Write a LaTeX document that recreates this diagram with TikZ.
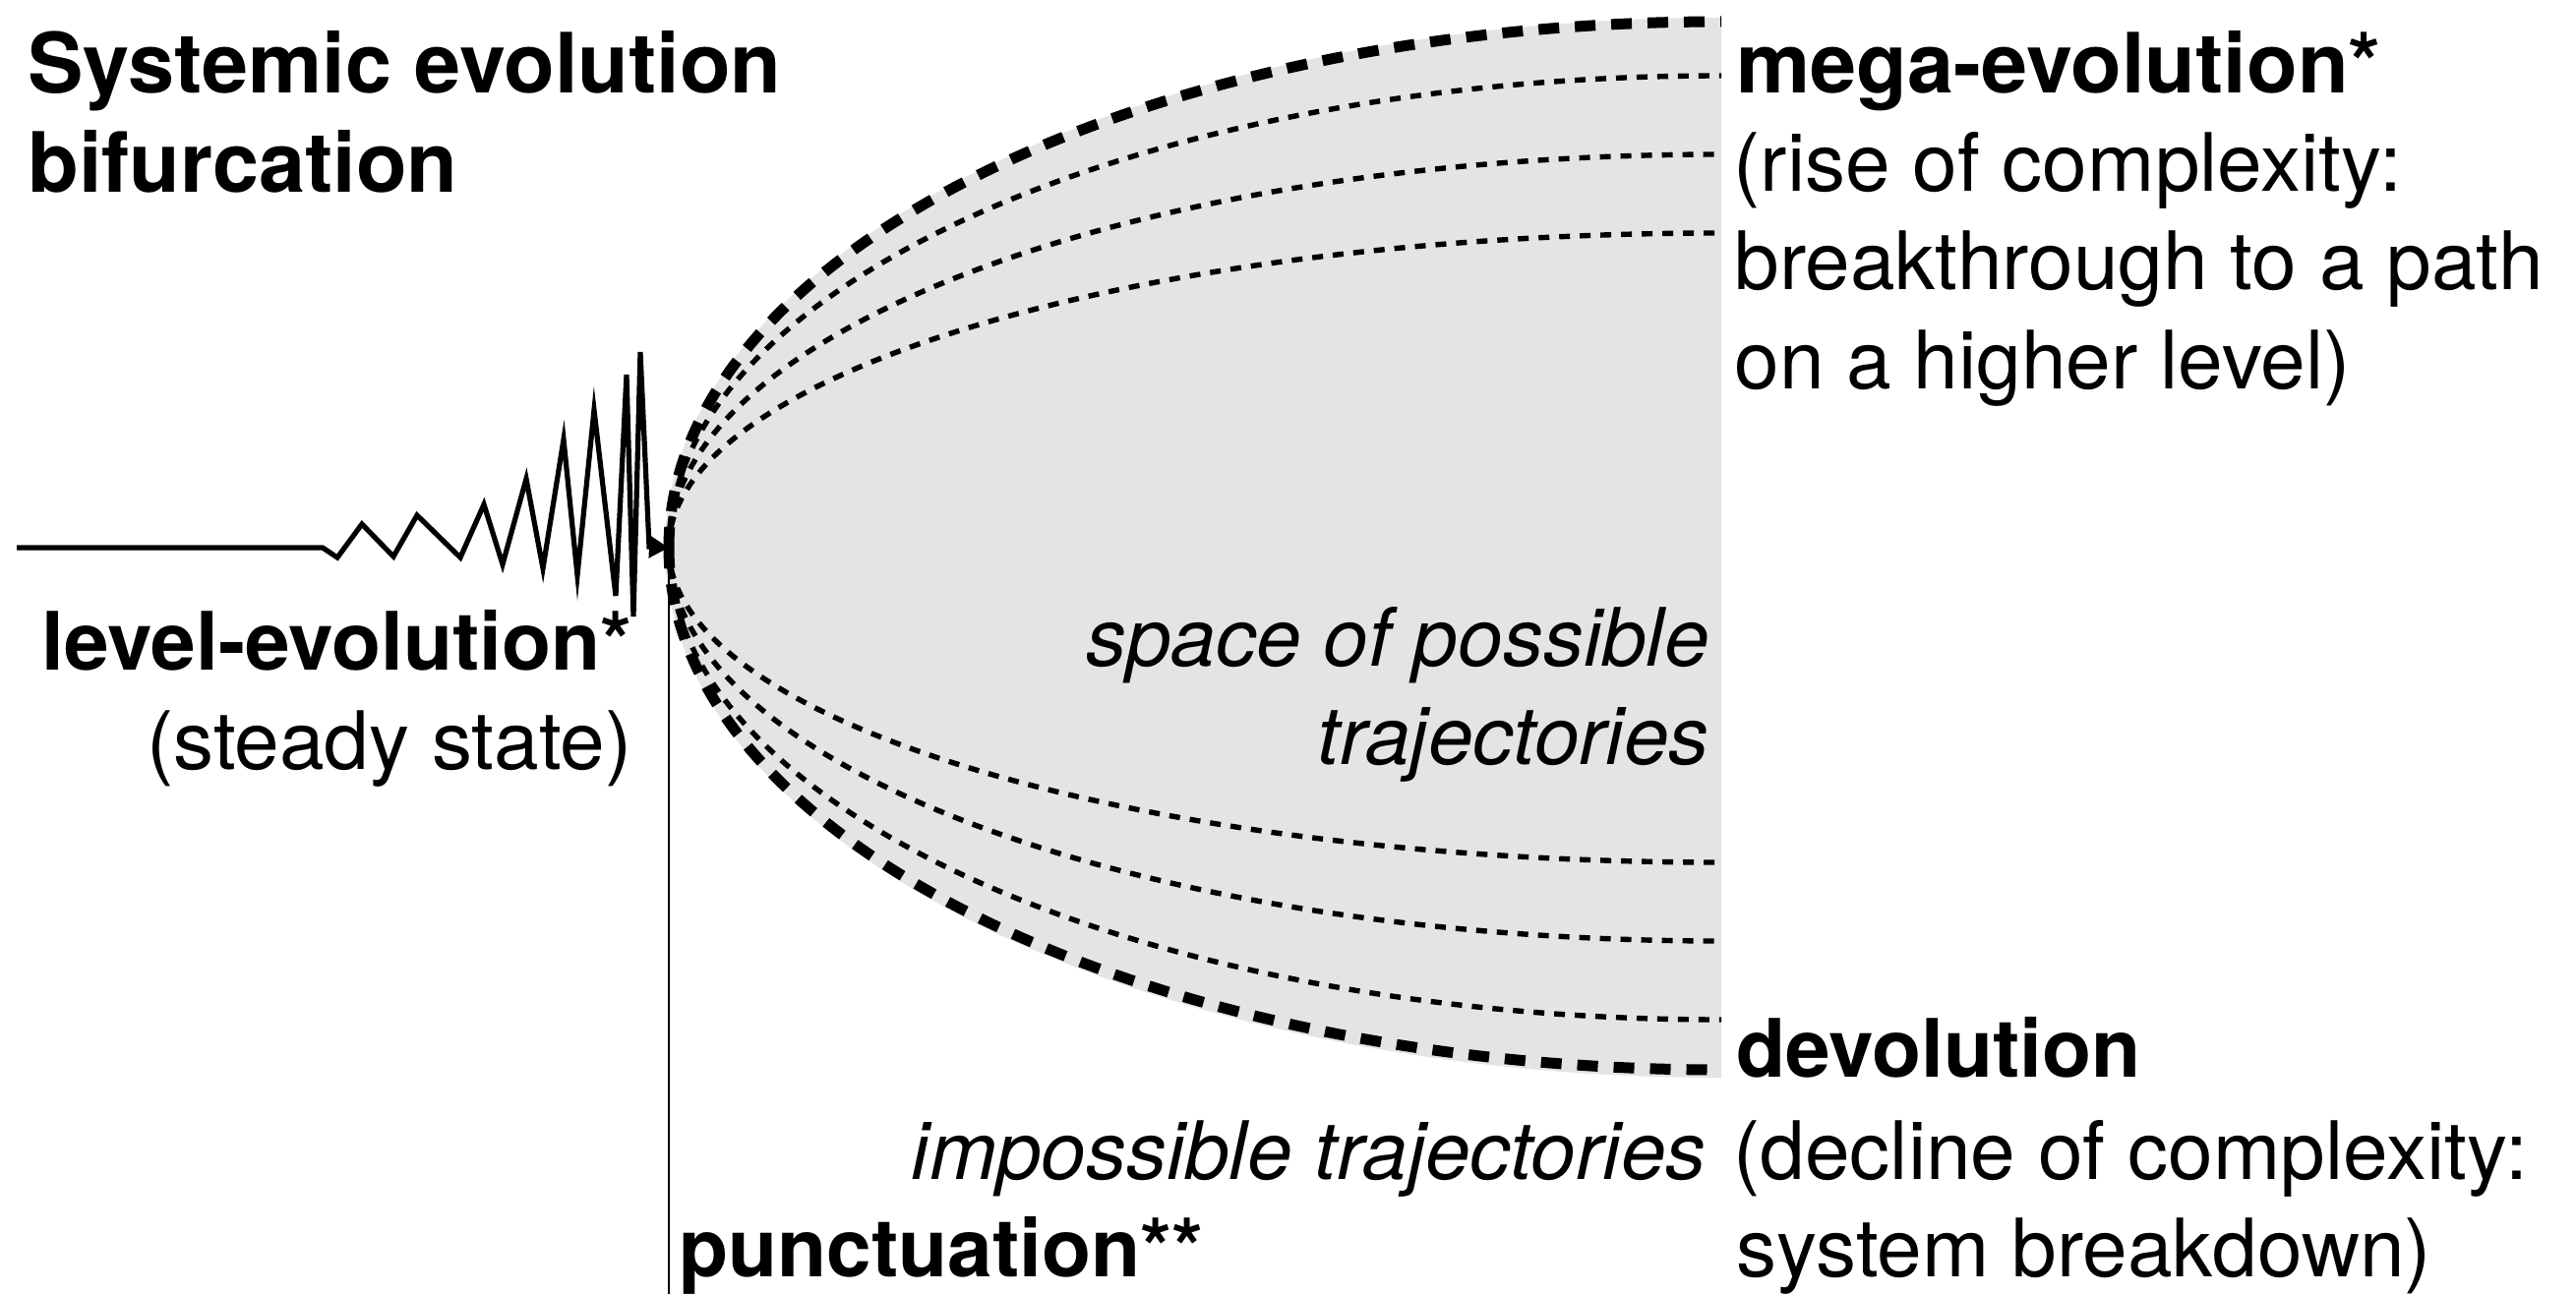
\documentclass[tikz,border=0pt]{standalone}
\usepackage{fontspec}
\setmainfont{TeX Gyre Heros}
\usetikzlibrary{arrows.meta}
\definecolor{spacegrey}{RGB}{228,228,228}
\begin{document}
\begin{tikzpicture}[x=0.5pt,y=-0.5pt,
  lbl/.style={inner sep=0pt, font=\fontsize{41}{50}\selectfont},
  bold/.style={inner sep=0pt, font=\fontsize{41}{50}\selectfont\bfseries},
  headline/.style={inner sep=0pt, font=\fontsize{42.3}{50}\selectfont\bfseries},
  ital/.style={inner sep=0pt, font=\fontsize{41}{50}\selectfont\itshape},
  bound/.style={line width=5.5pt, dash pattern=on 10.5pt off 8pt},
  traj/.style={line width=2.7pt, dash pattern=on 5.5pt off 5pt},
  signal/.style={line width=2.6pt, line join=miter},
]
\useasboundingbox (0,0) rectangle (2619,1316);

% bifurcation point and frame references
\coordinate (bif) at (680,557);
\coordinate (start) at (17,557);
\coordinate (floor) at (0,1316);

% space of possible trajectories
\fill[spacegrey] (1750,18) arc[start angle=270, end angle=90, x radius=1074, y radius=539] -- cycle;

% outer boundaries
\draw[bound] (bif) arc[start angle=180, end angle=270, x radius=1070, y radius=535];
\draw[bound] (bif) arc[start angle=180, end angle=90, x radius=1070, y radius=531];

% possible trajectories
\foreach \r in {480,400,320}{
  \draw[traj] (bif) arc[start angle=180, end angle=270, x radius=1070, y radius=\r];
  \draw[traj] (bif) arc[start angle=180, end angle=90, x radius=1070, y radius=\r];
}

% punctuation marker
\draw[line width=1pt] (bif) -- (bif |- floor);

% steady state followed by growing oscillation
\draw[signal, -{Triangle[length=10pt, width=11pt]}] (start) -- (328,557) -- (343,567) -- (368,533)
  -- (400,566) -- (424,524) -- (468,567) -- (492,513) -- (511,574) -- (535,487)
  -- (552,578) -- (573,447) -- (587,585) -- (604,417) -- (626,606) -- (637,381)
  -- (644,627) -- (651,358) -- (660,556) -- (bif);

% labels
\node[headline, anchor=base west] (title1) at (28,95) {Systemic evolution};
\node[headline, anchor=base west] (title2) at (28,196) {bifurcation};
\node[bold, anchor=base east] (level) at (643,681) {level-evolution*};
\node[lbl, anchor=base east] (steady) at (643,782) {(steady state)};
\node[ital, anchor=base east] (space1) at (1738,677) {space of possible};
\node[ital, anchor=base east] (space2) at (1738,777) {trajectories};
\node[ital, anchor=base east] (imposs) at (1735,1199) {impossible trajectories};
\node[bold, anchor=base west] (punct) at (690,1298) {punctuation**};
\node[headline, anchor=base west] (mega) at (1765,95) {mega-evolution*};
\node[lbl, anchor=base west] (mega1) at (1762,195) {(rise of complexity:};
\node[lbl, anchor=base west] (mega2) at (1763,295) {breakthrough to a path};
\node[lbl, anchor=base west] (mega3) at (1763,395) {on a higher level)};
\node[bold, anchor=base west] (devo) at (1765,1095) {devolution};
\node[lbl, anchor=base west] (devo1) at (1762,1199) {(decline of complexity:};
\node[lbl, anchor=base west] (devo2) at (1765,1298) {system breakdown)};
\end{tikzpicture}
\end{document}
